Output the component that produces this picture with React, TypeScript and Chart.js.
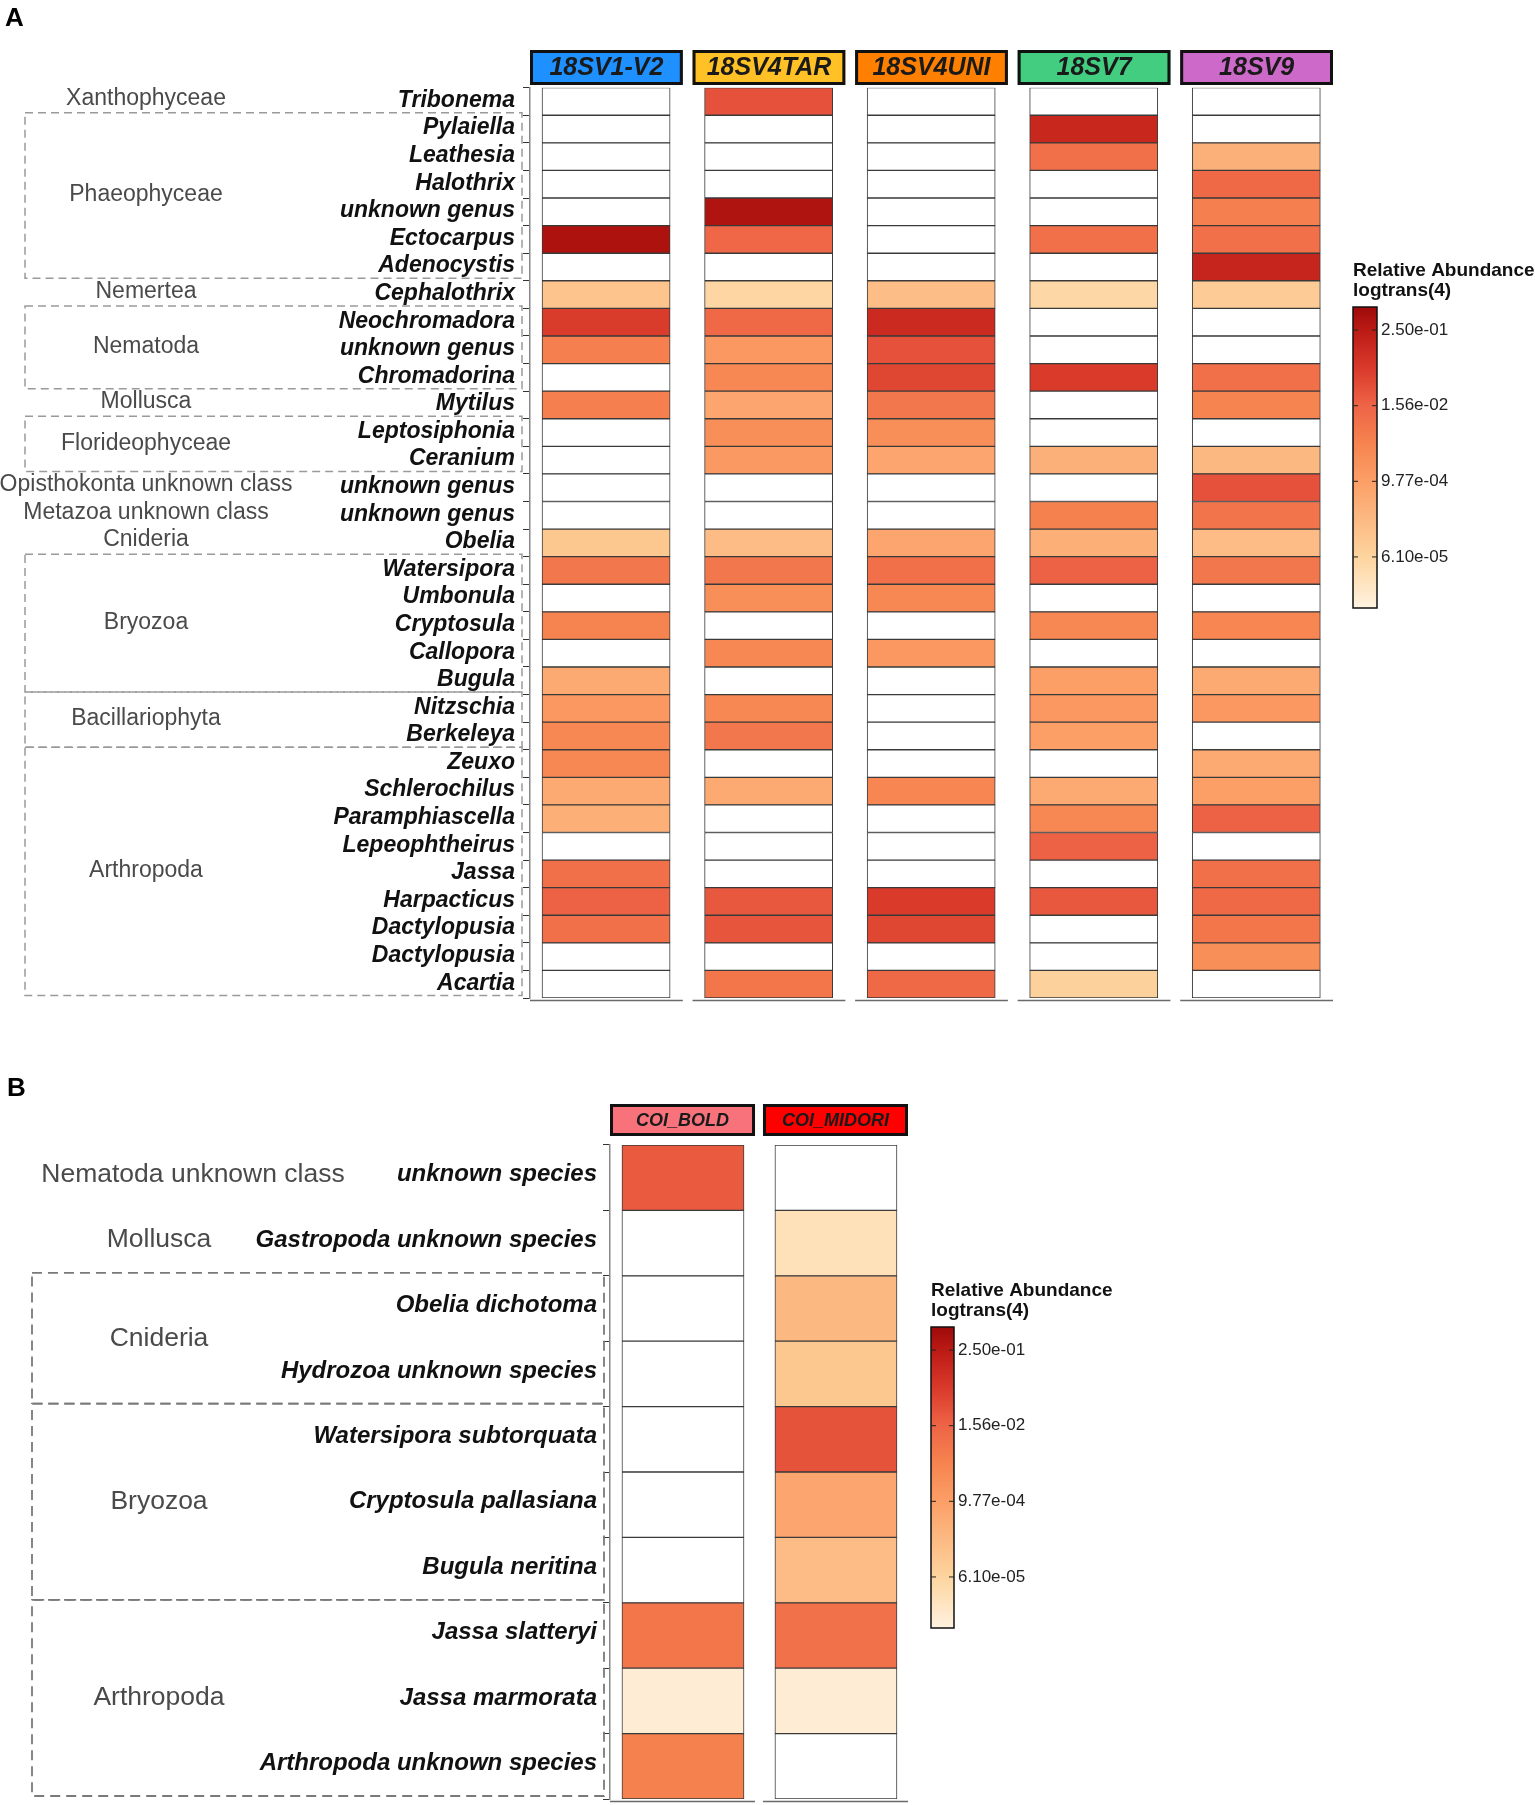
import React, { useEffect, useRef } from 'react';
import { Chart, registerables } from 'chart.js';

Chart.register(...registerables);

// ---------------- DATA (log4 of relative abundance; null = absent) ----------------
const genusA = [
  'Tribonema', 'Pylaiella', 'Leathesia', 'Halothrix', 'unknown genus', 'Ectocarpus', 'Adenocystis',
  'Cephalothrix', 'Neochromadora', 'unknown genus', 'Chromadorina', 'Mytilus', 'Leptosiphonia',
  'Ceranium', 'unknown genus', 'unknown genus', 'Obelia', 'Watersipora', 'Umbonula', 'Cryptosula',
  'Callopora', 'Bugula', 'Nitzschia', 'Berkeleya', 'Zeuxo', 'Schlerochilus', 'Paramphiascella',
  'Lepeophtheirus', 'Jassa', 'Harpacticus', 'Dactylopusia', 'Dactylopusia', 'Acartia',
];
const markersA = ['18SV1-V2', '18SV4TAR', '18SV4UNI', '18SV7', '18SV9'];
const markerColorsA = ['#1E90FF', '#FFC125', '#FF7F00', '#43CD80', '#CD69C9'];

const abund18SV1V2 = [
  null, null, null, null, null, -0.7, null,
  -6.4, -2.05, -3.85, null, -3.85, null,
  null, null, null, -6.5, -3.6, null, -4.0,
  null, -5.4, -4.75, -4.15, -4.15, -5.4, -5.6,
  null, -3.35, -2.95, -3.35, null, null,
];
const abund18SV4TAR = [
  -2.55, null, null, null, -0.75, -3.1, null,
  -7.1, -3.15, -4.75, -4.15, -5.25, -4.4,
  -4.8, null, null, -6.1, -3.6, -4.4, null,
  -4.15, null, -4.15, -3.6, null, -5.4, null,
  null, null, -2.7, -2.65, null, -3.55,
];
const abund18SV4UNI = [
  null, null, null, null, null, null, null,
  -6.15, -1.5, -2.55, -2.3, -3.6, -4.4,
  -5.25, null, null, -5.25, -3.35, -4.15, null,
  -4.75, null, null, null, null, -4.1, null,
  null, null, -2.0, -2.3, null, -3.15,
];
const abund18SV7 = [
  null, -1.4, -3.35, null, null, -3.35, null,
  -7.15, null, null, -2.0, null, null,
  -5.65, null, -3.9, -5.6, -2.95, null, -4.15,
  null, -5.0, -4.75, -5.0, null, -5.4, -4.15,
  -2.95, null, -2.7, null, null, -6.9,
];
const abund18SV9 = [
  null, null, -5.65, -3.15, -3.85, -3.35, -1.35,
  -6.7, null, null, -3.35, -4.0, null,
  -5.95, -2.55, -3.5, -6.1, -3.6, null, -4.1,
  null, -5.4, -4.75, null, -5.4, -5.0, -2.95,
  null, -3.35, -3.15, -3.55, -4.4, null,
];

const groupNamesA = [
  'Xanthophyceae', 'Phaeophyceae', 'Nemertea', 'Nematoda', 'Mollusca', 'Florideophyceae',
  'Opisthokonta unknown class', 'Metazoa unknown class', 'Cnideria', 'Bryozoa', 'Bacillariophyta', 'Arthropoda',
];
const groupStartA = [0, 1, 7, 8, 11, 12, 14, 15, 16, 17, 22, 24];
const groupEndA = [0, 6, 7, 10, 11, 13, 14, 15, 16, 21, 23, 32];
const groupBoxedA = [false, true, false, true, false, true, false, false, false, true, true, true];

const speciesB = [
  'unknown species', 'Gastropoda unknown species', 'Obelia dichotoma', 'Hydrozoa unknown species',
  'Watersipora subtorquata', 'Cryptosula pallasiana', 'Bugula neritina', 'Jassa slatteryi',
  'Jassa marmorata', 'Arthropoda unknown species',
];
const markersB = ['COI_BOLD', 'COI_MIDORI'];
const markerColorsB = ['#F7727A', '#FF0000'];
const abundCOIBold = [-2.75, null, null, null, null, null, null, -3.55, -8.1, -3.9];
const abundCOIMidori = [null, -7.55, -5.95, -6.5, -2.6, -5.25, -6.1, -3.4, -8.1, null];

const groupNamesB = ['Nematoda unknown class', 'Mollusca', 'Cnideria', 'Bryozoa', 'Arthropoda'];
const groupStartB = [0, 1, 2, 4, 7];
const groupEndB = [0, 1, 3, 6, 9];
const groupBoxedB = [false, false, true, true, true];

// colour bar (log base 4 scale)
const colorbarTickValues = [-1, -3, -5, -7];
const colorbarTickLabels = ['2.50e-01', '1.56e-02', '9.77e-04', '6.10e-05'];
const LOG_MIN = -8.35;
const LOG_MAX = -0.39;

// ---------------- STYLE ----------------
const FONT = '"Liberation Sans", Arial, Helvetica, sans-serif';
const STOPS: [number, string][] = [
  [0, '#FFF2E0'],
  [0.17, '#FDD49E'],
  [0.42, '#FC9F67'],
  [0.55, '#F6834F'],
  [0.673, '#EE6446'],
  [0.8, '#D9392A'],
  [0.925, '#BA1A14'],
  [1, '#9E0A0A'],
];

function hexToRgb(h: string) {
  const n = parseInt(h.slice(1), 16);
  return [(n >> 16) & 255, (n >> 8) & 255, n & 255];
}
function colorAtT(t: number) {
  t = Math.max(0, Math.min(1, t));
  for (let i = 0; i < STOPS.length - 1; i++) {
    const [t0, c0] = STOPS[i];
    const [t1, c1] = STOPS[i + 1];
    if (t >= t0 && t <= t1) {
      const f = (t - t0) / (t1 - t0);
      const a = hexToRgb(c0);
      const b = hexToRgb(c1);
      const r = a.map((v, k) => Math.round(v + (b[k] - v) * f));
      return `rgb(${r[0]},${r[1]},${r[2]})`;
    }
  }
  return STOPS[STOPS.length - 1][1];
}
function colorFor(v: number | null) {
  if (v === null || v === undefined) return '#FFFFFF';
  return colorAtT((v - LOG_MIN) / (LOG_MAX - LOG_MIN));
}

type PanelCfg = {
  panelLabel: string;
  labelX: number;
  labelY: number;
  rows: string[];
  markers: string[];
  markerColors: string[];
  values: (number | null)[][];
  groupNames: string[];
  groupStart: number[];
  groupEnd: number[];
  groupBoxed: boolean[];
  groupX: number;
  groupXOverride: Record<number, number>;
  groupDy: number;
  groupFont: number;
  rowFont: number;
  rowLabelOffset: number;
  tickPad: number;
  headerFont: string;
  headerH: number;
  headerGap: number;
  axisWidth: number;
  padTop: number;
  padBottom: number;
  padRight: number;
  xMax: number;
  panelW: number;
  cellL: number;
  cellR: number;
  boxL: number;
  boxR: number;
  boxOffset: number;
  boxColor: string;
  boxDash: number[];
  boxWidth: number;
  cbX: number;
  cbTop: number;
  cbW: number;
  cbH: number;
  height: number;
};

function makePlugin(p: PanelCfg) {
  return {
    id: 'decor' + p.panelLabel,
    afterDraw(chart: any) {
      const { ctx, chartArea, scales } = chart;
      const xs = scales.x;
      const ys = scales.y;
      const rowH = ys.getPixelForValue(1) - ys.getPixelForValue(0);
      ctx.save();

      // panel letter
      ctx.fillStyle = '#000';
      ctx.font = `bold 26px ${FONT}`;
      ctx.textAlign = 'left';
      ctx.textBaseline = 'alphabetic';
      ctx.fillText(p.panelLabel, p.labelX, p.labelY);

      // facet strips + bottom axis lines
      p.markers.forEach((m, c) => {
        const x0 = xs.getPixelForValue(c);
        const x1 = xs.getPixelForValue(c + p.panelW);
        const y1 = chartArea.top - p.headerGap;
        const y0 = y1 - p.headerH;
        ctx.fillStyle = p.markerColors[c];
        ctx.fillRect(x0, y0, x1 - x0, y1 - y0);
        ctx.strokeStyle = '#111';
        ctx.lineWidth = 3;
        ctx.setLineDash([]);
        ctx.strokeRect(x0 + 1.5, y0 + 1.5, x1 - x0 - 3, y1 - y0 - 3);
        ctx.fillStyle = '#1a1a1a';
        ctx.font = p.headerFont;
        ctx.textAlign = 'center';
        ctx.textBaseline = 'middle';
        ctx.fillText(m, (x0 + x1) / 2, (y0 + y1) / 2 + 1);

        ctx.strokeStyle = '#6a6a6a';
        ctx.lineWidth = 1.5;
        ctx.beginPath();
        ctx.moveTo(x0, chartArea.bottom + 2.5);
        ctx.lineTo(x1, chartArea.bottom + 2.5);
        ctx.stroke();
      });

      // group labels and dashed boxes
      p.groupNames.forEach((g, i) => {
        const yTop = ys.getPixelForValue(p.groupStart[i]) - rowH / 2;
        const yBot = ys.getPixelForValue(p.groupEnd[i]) + rowH / 2;
        const gx = p.groupXOverride[i] !== undefined ? p.groupXOverride[i] : p.groupX;
        ctx.fillStyle = '#4a4a4a';
        ctx.font = `${p.groupFont}px ${FONT}`;
        ctx.textAlign = 'center';
        ctx.textBaseline = 'middle';
        ctx.fillText(g, gx, (yTop + yBot) / 2 + p.groupDy);
        if (p.groupBoxed[i]) {
          ctx.strokeStyle = p.boxColor;
          ctx.lineWidth = p.boxWidth;
          ctx.setLineDash(p.boxDash);
          ctx.strokeRect(p.boxL, yTop + p.boxOffset, p.boxR - p.boxL, yBot - yTop);
          ctx.setLineDash([]);
        }
      });

      // colour bar
      const { cbX, cbTop, cbW, cbH } = p;
      const grad = ctx.createLinearGradient(0, cbTop + cbH, 0, cbTop);
      for (let k = 0; k <= 40; k++) grad.addColorStop(k / 40, colorAtT(k / 40));
      ctx.fillStyle = grad;
      ctx.fillRect(cbX, cbTop, cbW, cbH);
      ctx.strokeStyle = '#111';
      ctx.lineWidth = 1.5;
      ctx.strokeRect(cbX, cbTop, cbW, cbH);
      ctx.fillStyle = '#111';
      ctx.font = `bold 19px ${FONT}`;
      ctx.textAlign = 'left';
      ctx.textBaseline = 'alphabetic';
      ctx.fillText('Relative Abundance', cbX, cbTop - 31);
      ctx.fillText('logtrans(4)', cbX, cbTop - 11);
      ctx.font = `17px ${FONT}`;
      ctx.textBaseline = 'middle';
      colorbarTickValues.forEach((v, k) => {
        const y = cbTop + ((LOG_MAX - v) / (LOG_MAX - LOG_MIN)) * cbH;
        ctx.strokeStyle = '#222';
        ctx.lineWidth = 1;
        ctx.beginPath();
        ctx.moveTo(cbX, y);
        ctx.lineTo(cbX + 5, y);
        ctx.moveTo(cbX + cbW - 5, y);
        ctx.lineTo(cbX + cbW, y);
        ctx.stroke();
        ctx.fillStyle = '#222';
        ctx.fillText(colorbarTickLabels[k], cbX + cbW + 4, y);
      });
      ctx.restore();
    },
  };
}

function buildConfig(p: PanelCfg): any {
  const datasets = p.values.map((vals, c) => ({
    label: p.markers[c],
    data: p.rows.map(() => [c + p.cellL, c + p.cellR]),
    backgroundColor: vals.map(colorFor),
    borderColor: '#3a3a3a',
    borderWidth: 1,
    borderSkipped: false,
    grouped: false,
    categoryPercentage: 1,
    barPercentage: 1,
  }));
  return {
    type: 'bar',
    data: { labels: p.rows, datasets },
    options: {
      responsive: false,
      animation: false,
      devicePixelRatio: 1,
      indexAxis: 'y',
      layout: { padding: { top: p.padTop, bottom: p.padBottom, left: 0, right: p.padRight } },
      plugins: { legend: { display: false }, tooltip: { enabled: false } },
      scales: {
        x: { type: 'linear', min: 0, max: p.xMax, display: false },
        y: {
          type: 'category',
          offset: true,
          ticks: {
            autoSkip: false,
            color: '#111',
            padding: p.tickPad,
            labelOffset: p.rowLabelOffset,
            font: { family: FONT, size: p.rowFont, style: 'italic', weight: 'bold' },
          },
          grid: {
            display: true,
            drawOnChartArea: false,
            drawTicks: true,
            tickLength: 7,
            tickColor: '#333',
            lineWidth: 1,
          },
          border: { display: true, color: '#888', width: 1.5 },
          afterFit: (s: any) => {
            s.width = p.axisWidth;
          },
        },
      },
    },
    plugins: [makePlugin(p)],
  };
}

const panelA: PanelCfg = {
  panelLabel: 'A', labelX: 5, labelY: 26,
  rows: genusA, markers: markersA, markerColors: markerColorsA,
  values: [abund18SV1V2, abund18SV4TAR, abund18SV4UNI, abund18SV7, abund18SV9],
  groupNames: groupNamesA, groupStart: groupStartA, groupEnd: groupEndA, groupBoxed: groupBoxedA,
  groupX: 146, groupXOverride: {}, groupDy: -3, groupFont: 23, rowFont: 23, rowLabelOffset: -1, tickPad: 8,
  headerFont: `italic bold 25px ${FONT}`, headerH: 35, headerGap: 2.7,
  axisWidth: 530, padTop: 87.7, padBottom: 42, padRight: 202, xMax: 4.94,
  panelW: 0.94, cellL: 0.074, cellR: 0.862,
  boxL: 25, boxR: 522, boxOffset: -2.5, boxColor: '#9a9a9a', boxDash: [8, 5], boxWidth: 1.5,
  cbX: 1353, cbTop: 307, cbW: 24, cbH: 301,
  height: 1040,
};

const panelB: PanelCfg = {
  panelLabel: 'B', labelX: 7, labelY: 56,
  rows: speciesB, markers: markersB, markerColors: markerColorsB,
  values: [abundCOIBold, abundCOIMidori],
  groupNames: groupNamesB, groupStart: groupStartB, groupEnd: groupEndB, groupBoxed: groupBoxedB,
  groupX: 159, groupXOverride: { 0: 193 }, groupDy: -3, groupFont: 26.5, rowFont: 24, rowLabelOffset: -3, tickPad: 6,
  headerFont: `italic bold 18px ${FONT}`, headerH: 32, headerGap: 9,
  axisWidth: 610, padTop: 105, padBottom: 31, padRight: 627, xMax: 1.948,
  panelW: 0.948, cellL: 0.078, cellR: 0.876,
  boxL: 32, boxR: 604, boxOffset: -3, boxColor: '#7a7a7a', boxDash: [10, 6], boxWidth: 1.8,
  cbX: 931, cbTop: 287, cbW: 23, cbH: 301,
  height: 790,
};

function HeatPanel({ cfg, top }: { cfg: PanelCfg; top: number }) {
  const ref = useRef<HTMLCanvasElement>(null);
  useEffect(() => {
    const chart = new Chart(ref.current as HTMLCanvasElement, buildConfig(cfg));
    return () => chart.destroy();
  }, [cfg]);
  return (
    <canvas
      ref={ref}
      width={1535}
      height={cfg.height}
      style={{ position: 'absolute', left: 0, top, width: 1535, height: cfg.height, display: 'block' }}
    />
  );
}

export default function App() {
  return (
    <div
      style={{
        position: 'absolute',
        left: 0,
        top: 0,
        width: 1535,
        height: 1805,
        background: '#ffffff',
        overflow: 'hidden',
      }}
    >
      <HeatPanel cfg={panelA} top={0} />
      <HeatPanel cfg={panelB} top={1040} />
    </div>
  );
}
